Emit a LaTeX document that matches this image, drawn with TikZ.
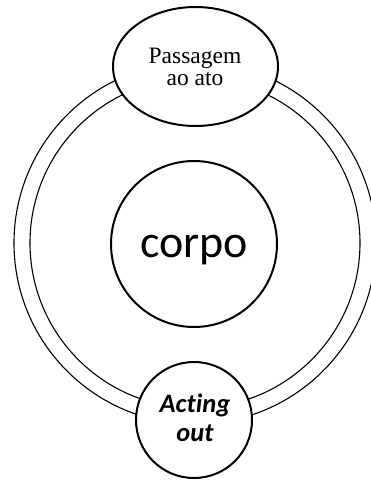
\documentclass[tikz,border=0pt]{standalone}
\usepackage{fontspec}
\setmainfont{Liberation Serif}
\newfontfamily\calib[Ligatures=NoCommon]{Carlito}
\usetikzlibrary{shapes.geometric}
\begin{document}
\begin{tikzpicture}[x=1pt,y=-1pt,
  ringline/.style={line width=1.1pt},
  bubble/.style={draw, line width=2pt, fill=white, inner sep=0pt},
  seriftxt/.style={anchor=base, font=\fontsize{23.5}{26}\selectfont},
  sanstxt/.style={anchor=base, font=\calib\fontsize{46}{50}\selectfont},
  boldtxt/.style={anchor=base, font=\calib\bfseries\itshape\fontsize{26.5}{30}\selectfont},
]
\useasboundingbox (0,0) rectangle (371,480);
% double ring around the body
\begin{scope}
  \clip (0,0) rectangle (371,480);
  \draw[ringline] (195,243) circle[radius=181];
  \draw[ringline] (195,243) circle[radius=165];
\end{scope}
% top ellipse
\node[bubble, ellipse, minimum width=165pt, minimum height=119pt] (pass) at (195.5,66.5) {};
\node[seriftxt] (passA) at (195,63) {Passagem};
\node[seriftxt] (passB) at (195,85) {ao ato};
% central circle
\node[bubble, circle, minimum size=166pt] (corpo) at (194,244) {};
\node[sanstxt] (corpotxt) at (194,257) {corpo};
% bottom circle
\node[bubble, circle, minimum size=116pt] (acting) at (194,420) {};
\node[boldtxt] (actA) at (195,412) {Acting};
\node[boldtxt] (actB) at (195,441) {out};
\end{tikzpicture}
\end{document}
